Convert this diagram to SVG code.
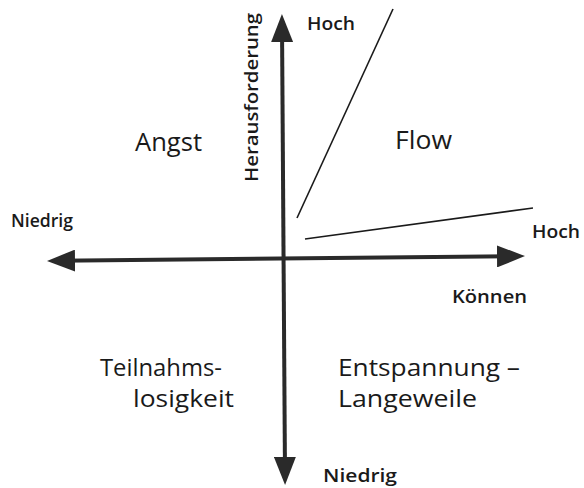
<svg xmlns="http://www.w3.org/2000/svg" width="584" height="488" viewBox="0 0 584 488">
<style>
.big{font-family:"Open Sans","Liberation Sans",sans-serif;font-size:25px;fill:#1a1a1a}
.two{font-family:"Open Sans","Liberation Sans",sans-serif;font-size:23px;fill:#1a1a1a}
.lbl{font-family:"Open Sans","Liberation Sans",sans-serif;font-size:18px;font-weight:600;fill:#1a1a1a}
.axis{stroke:#2a2a2a;stroke-width:4;fill:none}
.thin{stroke:#1a1a1a;stroke-width:1.6;fill:none}
</style>
<defs>
<marker id="ah" viewBox="0 0 28 22" refX="18" refY="11" markerWidth="28" markerHeight="22" markerUnits="userSpaceOnUse" orient="auto-start-reverse">
<path d="M0,0 L28,11 L0,22 z" fill="#2a2a2a"/>
</marker>
</defs>
<rect width="584" height="488" fill="#fff"/>
<g id="connectors">
<line class="axis" x1="57" y1="260.8" x2="515" y2="256.2" marker-start="url(#ah)" marker-end="url(#ah)"/>
<line class="axis" x1="282" y1="24" x2="285" y2="475" marker-start="url(#ah)" marker-end="url(#ah)"/>
<line class="thin" x1="297" y1="218" x2="393" y2="9"/>
<line class="thin" x1="305" y1="239" x2="533" y2="208"/>
</g>
<g id="angst"><text class="big" x="135" y="151" textLength="67" lengthAdjust="spacingAndGlyphs">Angst</text></g>
<g id="flow"><text class="big" x="395" y="149" textLength="57" lengthAdjust="spacingAndGlyphs">Flow</text></g>
<g id="teilnahmslosigkeit">
<text class="two" x="100" y="376" textLength="122" lengthAdjust="spacingAndGlyphs">Teilnahms-</text>
<text class="two" x="133" y="407" textLength="101" lengthAdjust="spacingAndGlyphs">losigkeit</text>
</g>
<g id="entspannung">
<text class="two" x="338" y="376" textLength="182" lengthAdjust="spacingAndGlyphs">Entspannung –</text>
<text class="two" x="338" y="407" textLength="139" lengthAdjust="spacingAndGlyphs">Langeweile</text>
</g>
<g id="labels">
<text class="lbl" x="307" y="30" textLength="48" lengthAdjust="spacingAndGlyphs">Hoch</text>
<text class="lbl" transform="translate(258,182) rotate(-90)" x="0" y="0" textLength="169" lengthAdjust="spacingAndGlyphs">Herausforderung</text>
<text class="lbl" x="11" y="227" textLength="62" lengthAdjust="spacingAndGlyphs">Niedrig</text>
<text class="lbl" x="532" y="238" textLength="48" lengthAdjust="spacingAndGlyphs">Hoch</text>
<text class="lbl" x="452" y="303" textLength="75" lengthAdjust="spacingAndGlyphs">Können</text>
<text class="lbl" x="323" y="482" textLength="74" lengthAdjust="spacingAndGlyphs">Niedrig</text>
</g>
</svg>
